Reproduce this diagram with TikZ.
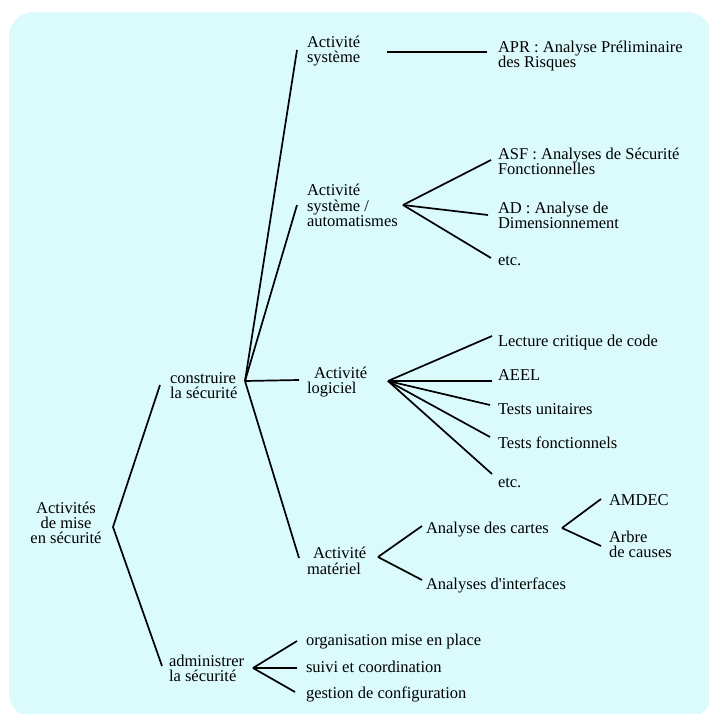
\documentclass[tikz,border=0pt]{standalone}
\usepackage{fontspec}
\setmainfont{Liberation Serif}
\usetikzlibrary{calc}
\definecolor{panel}{RGB}{218,250,252}
% stacked lines with a fixed baseline distance; the box baseline is the first line
\newcommand\lft[2][15pt]{\vtop{\baselineskip=#1\lineskiplimit=-100pt\lineskip=0pt\halign{##\hfil\cr#2\crcr}}}
\newcommand\ctr[2][15pt]{\vtop{\baselineskip=#1\lineskiplimit=-100pt\lineskip=0pt\halign{\hfil##\hfil\cr#2\crcr}}}
\begin{document}
\begin{tikzpicture}[x=1pt,y=-1pt,
  txt/.style={inner sep=0pt, outer sep=0pt, anchor=base west, font=\fontsize{16.5pt}{15pt}\selectfont},
  ctxt/.style={txt, anchor=base},
  link/.style={line width=1.7pt, draw=black}]
\useasboundingbox (0,0) rectangle (709,714);
\clip (0,0) rectangle (709,714);
\fill[panel, rounded corners=25pt] (9,12) rectangle (712,718);

% text nodes
\node[ctxt] (root) at (66,513) {\ctr{Activités\cr de mise\cr en sécurité}};
\node[txt] (build) at (170,383) {\lft{construire\cr la sécurité}};
\node[txt] (admin) at (169,666) {\lft{administrer\cr la sécurité}};
\node[txt] (sys) at (307,48) {\lft{Activité\cr système}};
\node[txt] (auto) at (307,196) {\lft{Activité\cr système /\cr automatismes}};
\node[txt] (soft) at (307,378) {\lft{\kern7pt Activité\cr logiciel}};
\node[txt] (hard) at (307,558) {\lft[16pt]{\kern6pt Activité\cr matériel}};
\node[txt] (apr) at (498,53) {\lft{APR : Analyse Préliminaire\cr des Risques}};
\node[txt] (asf) at (498,160) {\lft{ASF : Analyses de Sécurité\cr Fonctionnelles}};
\node[txt] (ad) at (498,213) {\lft{AD : Analyse de\cr Dimensionnement}};
\node[txt] (etcA) at (498,265) {etc.};
\node[txt] (lcc) at (498,346) {Lecture critique de code};
\node[txt] (aeel) at (498,380) {AEEL};
\node[txt] (tu) at (498,414) {Tests unitaires};
\node[txt] (tf) at (498,448) {Tests fonctionnels};
\node[txt] (etcB) at (498,487) {etc.};
\node[txt] (cards) at (426,533) {Analyse des cartes};
\node[txt] (itf) at (426,589) {Analyses d\textquotesingle interfaces};
\node[txt] (amdec) at (609,505) {AMDEC};
\node[txt] (tree) at (609,542) {\lft{Arbre\cr de causes}};
\node[txt] (org) at (306,645) {organisation mise en place};
\node[txt] (follow) at (306,672) {suivi et coordination};
\node[txt] (conf) at (306,698) {gestion de configuration};

% branching points
\coordinate (vRoot) at (113,527);
\coordinate (vBuild) at (245,381);
\coordinate (vAuto) at (403,205);
\coordinate (vSoft) at (388,381);
\coordinate (vHard) at (378,557);
\coordinate (vCards) at (562,528);
\coordinate (vAdmin) at (253,668);

% connectors
\draw[link] ($(build.base west)+(-10,2)$) -- (vRoot) -- ($(admin.base west)+(-7,0)$);
\draw[link] (vBuild) -- ($(sys.base west)+(-10,2)$);
\draw[link] (vBuild) -- ($(auto.base west)+(-10,9)$);
\draw[link] (vBuild) -- ($(soft.base west)+(-8,2)$);
\draw[link] (vBuild) -- ($(hard.base west)+(-8,0)$);
\draw[link] ($(sys.base west)+(80,4)$) -- ($(apr.base west)+(-11,-1)$);
\draw[link] (vAuto) -- ($(asf.base west)+(-7,0)$);
\draw[link] (vAuto) -- ($(ad.base west)+(-10,2)$);
\draw[link] (vAuto) -- ($(etcA.base west)+(-7,-7)$);
\draw[link] (vSoft) -- ($(lcc.base west)+(-6,-10)$);
\draw[link] (vSoft) -- ($(aeel.base west)+(-6,1)$);
\draw[link] (vSoft) -- ($(tu.base west)+(-8,-9)$);
\draw[link] (vSoft) -- ($(tf.base west)+(-8,-11)$);
\draw[link] (vSoft) -- ($(etcB.base west)+(-6,-13)$);
\draw[link] (vHard) -- ($(cards.base west)+(-4,-7)$);
\draw[link] (vHard) -- ($(itf.base west)+(-4,-9)$);
\draw[link] (vCards) -- ($(amdec.base west)+(-8,-6)$);
\draw[link] (vCards) -- ($(tree.base west)+(-8,4)$);
\draw[link] (vAdmin) -- ($(org.base west)+(-9,-4)$);
\draw[link] (vAdmin) -- ($(follow.base west)+(-9,-4)$);
\draw[link] (vAdmin) -- ($(conf.base west)+(-11,-6)$);
\end{tikzpicture}
\end{document}
